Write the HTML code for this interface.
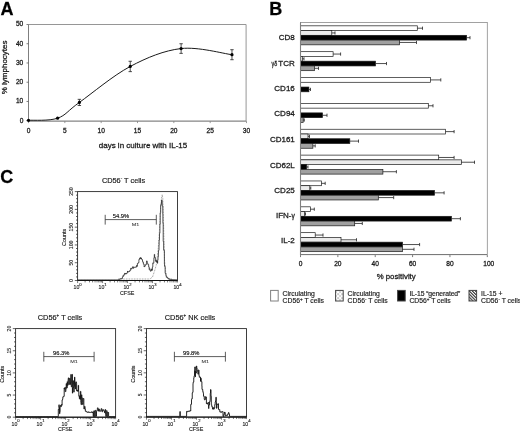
<!DOCTYPE html>
<html><head><meta charset="utf-8"><style>
html,body{margin:0;padding:0;background:#fff;}
svg{display:block;font-family:"Liberation Sans", sans-serif;will-change:transform;}
text{stroke:#222;stroke-width:0.28px;paint-order:stroke;}
</style></head><body>
<svg width="520" height="433" viewBox="0 0 520 433" font-family='"Liberation Sans", sans-serif'>
<rect width="520" height="433" fill="#fff"/>
<text x="0.6" y="14.8" font-size="18" font-weight="bold" fill="#000">A</text>
<path d="M28.5 24.5H246.1V121.1" fill="none" stroke="#8a8a8a" stroke-width="0.9"/>
<path d="M28.5 24.5V121.1" fill="none" stroke="#707070" stroke-width="0.9"/>
<path d="M28.5 121.1H246.1" fill="none" stroke="#858585" stroke-width="1.1"/>
<path d="M26.5 120.70H28.5" stroke="#606060" stroke-width="0.8"/>
<text x="23.3" y="122.60" font-size="6.6" text-anchor="end" fill="#1a1a1a">0</text>
<path d="M26.5 101.46H28.5" stroke="#606060" stroke-width="0.8"/>
<text x="23.3" y="103.36" font-size="6.6" text-anchor="end" fill="#1a1a1a">10</text>
<path d="M26.5 82.22H28.5" stroke="#606060" stroke-width="0.8"/>
<text x="23.3" y="84.12" font-size="6.6" text-anchor="end" fill="#1a1a1a">20</text>
<path d="M26.5 62.98H28.5" stroke="#606060" stroke-width="0.8"/>
<text x="23.3" y="64.88" font-size="6.6" text-anchor="end" fill="#1a1a1a">30</text>
<path d="M26.5 43.74H28.5" stroke="#606060" stroke-width="0.8"/>
<text x="23.3" y="45.64" font-size="6.6" text-anchor="end" fill="#1a1a1a">40</text>
<path d="M26.5 24.50H28.5" stroke="#606060" stroke-width="0.8"/>
<text x="23.3" y="26.40" font-size="6.6" text-anchor="end" fill="#1a1a1a">50</text>
<path d="M28.50 121.1V123.1" stroke="#808080" stroke-width="0.8"/>
<text x="28.50" y="133" font-size="6.6" text-anchor="middle" fill="#1a1a1a">0</text>
<path d="M64.84 121.1V123.1" stroke="#808080" stroke-width="0.8"/>
<text x="64.84" y="133" font-size="6.6" text-anchor="middle" fill="#1a1a1a">5</text>
<path d="M101.17 121.1V123.1" stroke="#808080" stroke-width="0.8"/>
<text x="101.17" y="133" font-size="6.6" text-anchor="middle" fill="#1a1a1a">10</text>
<path d="M137.50 121.1V123.1" stroke="#808080" stroke-width="0.8"/>
<text x="137.50" y="133" font-size="6.6" text-anchor="middle" fill="#1a1a1a">15</text>
<path d="M173.84 121.1V123.1" stroke="#808080" stroke-width="0.8"/>
<text x="173.84" y="133" font-size="6.6" text-anchor="middle" fill="#1a1a1a">20</text>
<path d="M210.18 121.1V123.1" stroke="#808080" stroke-width="0.8"/>
<text x="210.18" y="133" font-size="6.6" text-anchor="middle" fill="#1a1a1a">25</text>
<path d="M246.51 121.1V123.1" stroke="#808080" stroke-width="0.8"/>
<text x="246.51" y="133" font-size="6.6" text-anchor="middle" fill="#1a1a1a">30</text>
<text x="143" y="147.5" font-size="8" text-anchor="middle" fill="#1a1a1a">days in culture with IL-15</text>
<text transform="translate(6.5 67.4) rotate(-90)" font-size="8" text-anchor="middle" fill="#1a1a1a">% lymphocytes</text>
<path d="M28.50 120.32 C33.34 119.96 49.09 121.18 57.57 118.20 C66.05 115.22 67.26 111.05 79.37 102.42 C91.48 93.80 113.28 75.42 130.24 66.44 C147.19 57.46 164.15 50.51 181.11 48.55 C198.06 46.59 223.50 53.68 231.98 54.71" fill="none" stroke="#1a1a1a" stroke-width="1"/>
<circle cx="28.50" cy="120.32" r="1.6" fill="#000"/>
<circle cx="57.57" cy="118.20" r="1.6" fill="#000"/>
<path d="M79.37 99.34V105.50M77.67 99.34H81.07M77.67 105.50H81.07" stroke="#222" stroke-width="0.8" fill="none"/>
<circle cx="79.37" cy="102.42" r="1.6" fill="#000"/>
<path d="M130.24 61.25V71.64M128.54 61.25H131.94M128.54 71.64H131.94" stroke="#222" stroke-width="0.8" fill="none"/>
<circle cx="130.24" cy="66.44" r="1.6" fill="#000"/>
<path d="M181.11 43.74V53.36M179.41 43.74H182.81M179.41 53.36H182.81" stroke="#222" stroke-width="0.8" fill="none"/>
<circle cx="181.11" cy="48.55" r="1.6" fill="#000"/>
<path d="M231.98 49.70V59.71M230.28 49.70H233.68M230.28 59.71H233.68" stroke="#222" stroke-width="0.8" fill="none"/>
<circle cx="231.98" cy="54.71" r="1.6" fill="#000"/>
<text x="269.2" y="14.8" font-size="18" font-weight="bold" fill="#000">B</text>
<defs><pattern id="dots" width="2" height="2" patternUnits="userSpaceOnUse"><rect width="2" height="2" fill="#f2f2f2"/><rect width="1" height="1" fill="#c8c8c8"/></pattern><pattern id="hatch" width="2" height="2" patternUnits="userSpaceOnUse"><rect width="2" height="2" fill="#b0b0b0"/><rect width="1" height="1" fill="#707070"/></pattern><pattern id="hatchL" width="2.2" height="2.2" patternUnits="userSpaceOnUse" patternTransform="rotate(-45)"><rect width="2.2" height="2.2" fill="#ffffff"/><rect width="1.2" height="2.2" fill="#444"/></pattern><pattern id="dotsL" width="4" height="4" patternUnits="userSpaceOnUse" x="0.5" y="0.5"><rect width="4" height="4" fill="#fff"/><rect x="1" y="1" width="1.2" height="1.2" fill="#666"/><rect x="3" y="3" width="1.2" height="1.2" fill="#666"/></pattern></defs>
<rect x="300.50" y="25.83" width="116.80" height="4.75" fill="#ffffff" stroke="#1a1a1a" stroke-width="0.7"/>
<path d="M417.30 28.20H422.50M422.50 26.60V29.80" stroke="#222" stroke-width="0.8" fill="none"/>
<rect x="300.50" y="30.58" width="31.30" height="4.75" fill="#ebebeb" stroke="#1a1a1a" stroke-width="0.7"/>
<path d="M331.80 32.95H335.00M335.00 31.35V34.55" stroke="#222" stroke-width="0.8" fill="none"/>
<rect x="300.50" y="35.33" width="166.10" height="4.75" fill="#000000" stroke="#1a1a1a" stroke-width="0.7"/>
<path d="M466.60 37.70H470.00M470.00 36.10V39.30" stroke="#222" stroke-width="0.8" fill="none"/>
<rect x="300.50" y="40.08" width="99.10" height="4.75" fill="#a0a0a0" stroke="#1a1a1a" stroke-width="0.7"/>
<path d="M399.60 42.45H416.50M416.50 40.85V44.05" stroke="#222" stroke-width="0.8" fill="none"/>
<text x="294.8" y="40.30" font-size="8" text-anchor="end" fill="#1a1a1a">CD8</text>
<rect x="300.50" y="51.68" width="32.60" height="4.75" fill="#ffffff" stroke="#1a1a1a" stroke-width="0.7"/>
<path d="M333.10 54.06H340.60M340.60 52.46V55.66" stroke="#222" stroke-width="0.8" fill="none"/>
<rect x="300.50" y="56.43" width="1.80" height="4.75" fill="#ebebeb" stroke="#1a1a1a" stroke-width="0.7"/>
<path d="M302.30 58.81H304.00M304.00 57.21V60.41" stroke="#222" stroke-width="0.8" fill="none"/>
<rect x="300.50" y="61.18" width="75.00" height="4.75" fill="#000000" stroke="#1a1a1a" stroke-width="0.7"/>
<path d="M375.50 63.56H386.50M386.50 61.96V65.16" stroke="#222" stroke-width="0.8" fill="none"/>
<rect x="300.50" y="65.93" width="14.00" height="4.75" fill="#a0a0a0" stroke="#1a1a1a" stroke-width="0.7"/>
<path d="M314.50 68.31H318.50M318.50 66.71V69.91" stroke="#222" stroke-width="0.8" fill="none"/>
<text x="271.5" y="65.50" font-size="7.4" textLength="5.7" lengthAdjust="spacingAndGlyphs" fill="#1a1a1a">γδ</text>
<text x="294.8" y="65.50" font-size="8" text-anchor="end" fill="#1a1a1a">TCR</text>
<rect x="300.50" y="77.54" width="130.10" height="4.75" fill="#ffffff" stroke="#1a1a1a" stroke-width="0.7"/>
<path d="M430.60 79.91H440.80M440.80 78.31V81.51" stroke="#222" stroke-width="0.8" fill="none"/>
<rect x="300.50" y="87.04" width="8.40" height="4.75" fill="#000000" stroke="#1a1a1a" stroke-width="0.7"/>
<path d="M308.90 89.41H310.50M310.50 87.81V91.01" stroke="#222" stroke-width="0.8" fill="none"/>
<text x="294.8" y="90.65" font-size="8" text-anchor="end" fill="#1a1a1a">CD16</text>
<rect x="300.50" y="103.39" width="127.80" height="4.75" fill="#ffffff" stroke="#1a1a1a" stroke-width="0.7"/>
<path d="M428.30 105.77H433.00M433.00 104.17V107.37" stroke="#222" stroke-width="0.8" fill="none"/>
<rect x="300.50" y="112.89" width="22.00" height="4.75" fill="#000000" stroke="#1a1a1a" stroke-width="0.7"/>
<path d="M322.50 115.27H327.00M327.00 113.67V116.87" stroke="#222" stroke-width="0.8" fill="none"/>
<rect x="300.50" y="117.64" width="2.70" height="4.75" fill="#a0a0a0" stroke="#1a1a1a" stroke-width="0.7"/>
<path d="M303.20 120.02H304.30M304.30 118.42V121.62" stroke="#222" stroke-width="0.8" fill="none"/>
<text x="294.8" y="116.05" font-size="8" text-anchor="end" fill="#1a1a1a">CD94</text>
<rect x="300.50" y="129.25" width="145.10" height="4.75" fill="#ffffff" stroke="#1a1a1a" stroke-width="0.7"/>
<path d="M445.60 131.62H454.10M454.10 130.03V133.22" stroke="#222" stroke-width="0.8" fill="none"/>
<rect x="300.50" y="134.00" width="7.50" height="4.75" fill="#ebebeb" stroke="#1a1a1a" stroke-width="0.7"/>
<path d="M308.00 136.38H309.50M309.50 134.78V137.97" stroke="#222" stroke-width="0.8" fill="none"/>
<rect x="300.50" y="138.75" width="49.30" height="4.75" fill="#000000" stroke="#1a1a1a" stroke-width="0.7"/>
<path d="M349.80 141.12H358.50M358.50 139.53V142.72" stroke="#222" stroke-width="0.8" fill="none"/>
<rect x="300.50" y="143.50" width="12.40" height="4.75" fill="#a0a0a0" stroke="#1a1a1a" stroke-width="0.7"/>
<path d="M312.90 145.88H315.20M315.20 144.28V147.47" stroke="#222" stroke-width="0.8" fill="none"/>
<text x="294.8" y="141.90" font-size="8" text-anchor="end" fill="#1a1a1a">CD161</text>
<rect x="300.50" y="155.11" width="138.20" height="4.75" fill="#ffffff" stroke="#1a1a1a" stroke-width="0.7"/>
<path d="M438.70 157.48H454.10M454.10 155.88V159.08" stroke="#222" stroke-width="0.8" fill="none"/>
<rect x="300.50" y="159.86" width="160.90" height="4.75" fill="#ebebeb" stroke="#1a1a1a" stroke-width="0.7"/>
<path d="M461.40 162.23H474.50M474.50 160.63V163.83" stroke="#222" stroke-width="0.8" fill="none"/>
<rect x="300.50" y="164.61" width="6.10" height="4.75" fill="#000000" stroke="#1a1a1a" stroke-width="0.7"/>
<path d="M306.60 166.98H308.00M308.00 165.38V168.58" stroke="#222" stroke-width="0.8" fill="none"/>
<rect x="300.50" y="169.36" width="82.40" height="4.75" fill="#a0a0a0" stroke="#1a1a1a" stroke-width="0.7"/>
<path d="M382.90 171.73H396.40M396.40 170.13V173.33" stroke="#222" stroke-width="0.8" fill="none"/>
<text x="294.8" y="168.00" font-size="8" text-anchor="end" fill="#1a1a1a">CD62L</text>
<rect x="300.50" y="180.96" width="20.90" height="4.75" fill="#ffffff" stroke="#1a1a1a" stroke-width="0.7"/>
<path d="M321.40 183.34H325.20M325.20 181.74V184.94" stroke="#222" stroke-width="0.8" fill="none"/>
<rect x="300.50" y="185.71" width="9.30" height="4.75" fill="#ebebeb" stroke="#1a1a1a" stroke-width="0.7"/>
<path d="M309.80 188.09H310.80M310.80 186.49V189.69" stroke="#222" stroke-width="0.8" fill="none"/>
<rect x="300.50" y="190.46" width="134.00" height="4.75" fill="#000000" stroke="#1a1a1a" stroke-width="0.7"/>
<path d="M434.50 192.84H444.10M444.10 191.24V194.44" stroke="#222" stroke-width="0.8" fill="none"/>
<rect x="300.50" y="195.21" width="77.80" height="4.75" fill="#a0a0a0" stroke="#1a1a1a" stroke-width="0.7"/>
<path d="M378.30 197.59H393.70M393.70 195.99V199.19" stroke="#222" stroke-width="0.8" fill="none"/>
<text x="294.8" y="192.85" font-size="8" text-anchor="end" fill="#1a1a1a">CD25</text>
<rect x="300.50" y="206.82" width="9.90" height="4.75" fill="#ffffff" stroke="#1a1a1a" stroke-width="0.7"/>
<path d="M310.40 209.19H314.30M314.30 207.59V210.79" stroke="#222" stroke-width="0.8" fill="none"/>
<rect x="300.50" y="211.57" width="4.00" height="4.75" fill="#ebebeb" stroke="#1a1a1a" stroke-width="0.7"/>
<path d="M304.50 213.94H305.50M305.50 212.34V215.54" stroke="#222" stroke-width="0.8" fill="none"/>
<rect x="300.50" y="216.32" width="150.90" height="4.75" fill="#000000" stroke="#1a1a1a" stroke-width="0.7"/>
<path d="M451.40 218.69H460.40M460.40 217.09V220.29" stroke="#222" stroke-width="0.8" fill="none"/>
<rect x="300.50" y="221.07" width="54.20" height="4.75" fill="#a0a0a0" stroke="#1a1a1a" stroke-width="0.7"/>
<path d="M354.70 223.44H362.30M362.30 221.84V225.04" stroke="#222" stroke-width="0.8" fill="none"/>
<text x="294.8" y="217.50" font-size="8" text-anchor="end" fill="#1a1a1a">IFN-<tspan font-size="6.6">γ</tspan></text>
<rect x="300.50" y="232.67" width="14.70" height="4.75" fill="#ffffff" stroke="#1a1a1a" stroke-width="0.7"/>
<path d="M315.20 235.05H323.00M323.00 233.45V236.65" stroke="#222" stroke-width="0.8" fill="none"/>
<rect x="300.50" y="237.42" width="40.50" height="4.75" fill="#ebebeb" stroke="#1a1a1a" stroke-width="0.7"/>
<path d="M341.00 239.80H356.50M356.50 238.20V241.40" stroke="#222" stroke-width="0.8" fill="none"/>
<rect x="300.50" y="242.17" width="102.00" height="4.75" fill="#000000" stroke="#1a1a1a" stroke-width="0.7"/>
<path d="M402.50 244.55H419.60M419.60 242.95V246.15" stroke="#222" stroke-width="0.8" fill="none"/>
<rect x="300.50" y="246.92" width="102.00" height="4.75" fill="#a0a0a0" stroke="#1a1a1a" stroke-width="0.7"/>
<path d="M402.50 249.30H414.00M414.00 247.70V250.90" stroke="#222" stroke-width="0.8" fill="none"/>
<text x="294.8" y="242.95" font-size="8" text-anchor="end" fill="#1a1a1a">IL-2</text>
<rect x="300.5" y="22.4" width="186.80" height="232.20" fill="none" stroke="#8a8a8a" stroke-width="0.8"/>
<path d="M300.5 22.4V255.1" fill="none" stroke="#808080" stroke-width="1.1"/>
<path d="M300.5 254.6H487.3" fill="none" stroke="#777" stroke-width="1"/>
<path d="M300.50 255.1V257.1" stroke="#555" stroke-width="0.8"/>
<text x="300.50" y="265.5" font-size="6.6" text-anchor="middle" fill="#1a1a1a">0</text>
<path d="M337.86 255.1V257.1" stroke="#555" stroke-width="0.8"/>
<text x="337.86" y="265.5" font-size="6.6" text-anchor="middle" fill="#1a1a1a">20</text>
<path d="M375.22 255.1V257.1" stroke="#555" stroke-width="0.8"/>
<text x="375.22" y="265.5" font-size="6.6" text-anchor="middle" fill="#1a1a1a">40</text>
<path d="M412.58 255.1V257.1" stroke="#555" stroke-width="0.8"/>
<text x="412.58" y="265.5" font-size="6.6" text-anchor="middle" fill="#1a1a1a">60</text>
<path d="M449.94 255.1V257.1" stroke="#555" stroke-width="0.8"/>
<text x="449.94" y="265.5" font-size="6.6" text-anchor="middle" fill="#1a1a1a">80</text>
<path d="M487.30 255.1V257.1" stroke="#555" stroke-width="0.8"/>
<text x="488.80" y="265.5" font-size="6.6" text-anchor="middle" fill="#1a1a1a">100</text>
<text x="396.2" y="278.7" font-size="7.8" text-anchor="middle" fill="#1a1a1a">% positivity</text>
<rect x="270.60" y="290.4" width="7.6" height="10.6" fill="#fff" stroke="#808080" stroke-width="1"/>
<rect x="335.60" y="290.4" width="7.6" height="10.6" fill="url(#dotsL)" stroke="#444" stroke-width="1"/>
<rect x="397.60" y="290.4" width="7.6" height="10.6" fill="#000" stroke="#444" stroke-width="1"/>
<rect x="469.00" y="290.4" width="7.6" height="10.6" fill="url(#hatchL)" stroke="#444" stroke-width="1"/>
<text x="282.6" y="295.7" font-size="6.8" fill="#1a1a1a" style="stroke-width:0.16px">Circulating</text>
<text x="282.6" y="303" font-size="6.8" fill="#1a1a1a" style="stroke-width:0.16px">CD56<tspan font-size="4.5" dy="-2.5">+</tspan><tspan dy="2.5"> T cells</tspan></text>
<text x="347.6" y="295.7" font-size="6.8" fill="#1a1a1a" style="stroke-width:0.16px">Circulating</text>
<text x="347.6" y="303" font-size="6.8" fill="#1a1a1a" style="stroke-width:0.16px">CD56<tspan font-size="4.5" dy="-2.5">-</tspan><tspan dy="2.5"> T cells</tspan></text>
<text x="409.4" y="295.7" font-size="6.8" fill="#1a1a1a" letter-spacing="-0.1" style="stroke-width:0.16px">IL-15 &#8220;generated&#8221;</text>
<text x="409.4" y="303" font-size="6.8" fill="#1a1a1a" style="stroke-width:0.16px">CD56<tspan font-size="4.5" dy="-2.5">+</tspan><tspan dy="2.5"> T cells</tspan></text>
<text x="481.0" y="295.7" font-size="6.8" fill="#1a1a1a" style="stroke-width:0.16px">IL-15 +</text>
<text x="481.0" y="303" font-size="6.8" fill="#1a1a1a" style="stroke-width:0.16px">CD56<tspan font-size="4.5" dy="-2.5">-</tspan><tspan dy="2.5"> T cells</tspan></text>
<text x="0.3" y="182.5" font-size="18" font-weight="bold" fill="#000">C</text>
<text x="101.9" y="182.60" font-size="7.35" fill="#1a1a1a" style="stroke-width:0.18px">CD56<tspan font-size="4.5" dy="-2.5">-</tspan><tspan dy="2.5"> T cells</tspan></text>
<rect x="77.6" y="191.6" width="99.90" height="88.90" fill="none" stroke="#2a2a2a" stroke-width="0.9"/>
<path d="M74.80 280.50H77.6" stroke="#222" stroke-width="0.7"/>
<path d="M76.00 276.94H77.6" stroke="#222" stroke-width="0.7"/>
<path d="M76.00 273.39H77.6" stroke="#222" stroke-width="0.7"/>
<path d="M76.00 269.83H77.6" stroke="#222" stroke-width="0.7"/>
<path d="M76.00 266.28H77.6" stroke="#222" stroke-width="0.7"/>
<path d="M74.80 262.72H77.6" stroke="#222" stroke-width="0.7"/>
<path d="M76.00 259.16H77.6" stroke="#222" stroke-width="0.7"/>
<path d="M76.00 255.61H77.6" stroke="#222" stroke-width="0.7"/>
<path d="M76.00 252.05H77.6" stroke="#222" stroke-width="0.7"/>
<path d="M76.00 248.50H77.6" stroke="#222" stroke-width="0.7"/>
<path d="M74.80 244.94H77.6" stroke="#222" stroke-width="0.7"/>
<path d="M76.00 241.38H77.6" stroke="#222" stroke-width="0.7"/>
<path d="M76.00 237.83H77.6" stroke="#222" stroke-width="0.7"/>
<path d="M76.00 234.27H77.6" stroke="#222" stroke-width="0.7"/>
<path d="M76.00 230.72H77.6" stroke="#222" stroke-width="0.7"/>
<path d="M74.80 227.16H77.6" stroke="#222" stroke-width="0.7"/>
<path d="M76.00 223.60H77.6" stroke="#222" stroke-width="0.7"/>
<path d="M76.00 220.05H77.6" stroke="#222" stroke-width="0.7"/>
<path d="M76.00 216.49H77.6" stroke="#222" stroke-width="0.7"/>
<path d="M76.00 212.94H77.6" stroke="#222" stroke-width="0.7"/>
<path d="M74.80 209.38H77.6" stroke="#222" stroke-width="0.7"/>
<path d="M76.00 205.82H77.6" stroke="#222" stroke-width="0.7"/>
<path d="M76.00 202.27H77.6" stroke="#222" stroke-width="0.7"/>
<path d="M76.00 198.71H77.6" stroke="#222" stroke-width="0.7"/>
<path d="M76.00 195.16H77.6" stroke="#222" stroke-width="0.7"/>
<path d="M74.80 191.60H77.6" stroke="#222" stroke-width="0.7"/>
<text transform="translate(72.70 280.50) rotate(-90)" font-size="5.1" style="stroke-width:0.12px" text-anchor="middle" fill="#1a1a1a">0</text>
<text transform="translate(72.70 262.72) rotate(-90)" font-size="5.1" style="stroke-width:0.12px" text-anchor="middle" fill="#1a1a1a">50</text>
<text transform="translate(72.70 244.94) rotate(-90)" font-size="5.1" style="stroke-width:0.12px" text-anchor="middle" fill="#1a1a1a">100</text>
<text transform="translate(72.70 227.16) rotate(-90)" font-size="5.1" style="stroke-width:0.12px" text-anchor="middle" fill="#1a1a1a">150</text>
<text transform="translate(72.70 209.38) rotate(-90)" font-size="5.1" style="stroke-width:0.12px" text-anchor="middle" fill="#1a1a1a">200</text>
<text transform="translate(72.70 191.60) rotate(-90)" font-size="5.1" style="stroke-width:0.12px" text-anchor="middle" fill="#1a1a1a">250</text>
<text transform="translate(66.40 237.38) rotate(-90)" font-size="5.4" text-anchor="middle" fill="#1a1a1a" style="stroke-width:0.14px">Counts</text>
<path d="M77.60 280.5V283.10" stroke="#222" stroke-width="0.6"/>
<path d="M85.12 280.5V282.40" stroke="#222" stroke-width="0.6"/>
<path d="M89.52 280.5V282.40" stroke="#222" stroke-width="0.6"/>
<path d="M92.64 280.5V282.40" stroke="#222" stroke-width="0.6"/>
<path d="M95.06 280.5V282.40" stroke="#222" stroke-width="0.6"/>
<path d="M97.03 280.5V282.40" stroke="#222" stroke-width="0.6"/>
<path d="M98.71 280.5V282.40" stroke="#222" stroke-width="0.6"/>
<path d="M100.15 280.5V282.40" stroke="#222" stroke-width="0.6"/>
<path d="M101.43 280.5V282.40" stroke="#222" stroke-width="0.6"/>
<path d="M102.57 280.5V283.10" stroke="#222" stroke-width="0.6"/>
<path d="M110.09 280.5V282.40" stroke="#222" stroke-width="0.6"/>
<path d="M114.49 280.5V282.40" stroke="#222" stroke-width="0.6"/>
<path d="M117.61 280.5V282.40" stroke="#222" stroke-width="0.6"/>
<path d="M120.03 280.5V282.40" stroke="#222" stroke-width="0.6"/>
<path d="M122.01 280.5V282.40" stroke="#222" stroke-width="0.6"/>
<path d="M123.68 280.5V282.40" stroke="#222" stroke-width="0.6"/>
<path d="M125.13 280.5V282.40" stroke="#222" stroke-width="0.6"/>
<path d="M126.41 280.5V282.40" stroke="#222" stroke-width="0.6"/>
<path d="M127.55 280.5V283.10" stroke="#222" stroke-width="0.6"/>
<path d="M135.07 280.5V282.40" stroke="#222" stroke-width="0.6"/>
<path d="M139.47 280.5V282.40" stroke="#222" stroke-width="0.6"/>
<path d="M142.59 280.5V282.40" stroke="#222" stroke-width="0.6"/>
<path d="M145.01 280.5V282.40" stroke="#222" stroke-width="0.6"/>
<path d="M146.98 280.5V282.40" stroke="#222" stroke-width="0.6"/>
<path d="M148.66 280.5V282.40" stroke="#222" stroke-width="0.6"/>
<path d="M150.10 280.5V282.40" stroke="#222" stroke-width="0.6"/>
<path d="M151.38 280.5V282.40" stroke="#222" stroke-width="0.6"/>
<path d="M152.53 280.5V283.10" stroke="#222" stroke-width="0.6"/>
<path d="M160.04 280.5V282.40" stroke="#222" stroke-width="0.6"/>
<path d="M164.44 280.5V282.40" stroke="#222" stroke-width="0.6"/>
<path d="M167.56 280.5V282.40" stroke="#222" stroke-width="0.6"/>
<path d="M169.98 280.5V282.40" stroke="#222" stroke-width="0.6"/>
<path d="M171.96 280.5V282.40" stroke="#222" stroke-width="0.6"/>
<path d="M173.63 280.5V282.40" stroke="#222" stroke-width="0.6"/>
<path d="M175.08 280.5V282.40" stroke="#222" stroke-width="0.6"/>
<path d="M176.36 280.5V282.40" stroke="#222" stroke-width="0.6"/>
<path d="M177.5 280.5V282.5" stroke="#222" stroke-width="0.6"/>
<text x="77.60" y="289.10" font-size="5.2" text-anchor="middle" fill="#1a1a1a" style="stroke-width:0.12px">10<tspan font-size="4.2" dy="-3.6">0</tspan></text>
<text x="102.57" y="289.10" font-size="5.2" text-anchor="middle" fill="#1a1a1a" style="stroke-width:0.12px">10<tspan font-size="4.2" dy="-3.6">1</tspan></text>
<text x="127.55" y="289.10" font-size="5.2" text-anchor="middle" fill="#1a1a1a" style="stroke-width:0.12px">10<tspan font-size="4.2" dy="-3.6">2</tspan></text>
<text x="152.53" y="289.10" font-size="5.2" text-anchor="middle" fill="#1a1a1a" style="stroke-width:0.12px">10<tspan font-size="4.2" dy="-3.6">3</tspan></text>
<text x="177.50" y="289.10" font-size="5.2" text-anchor="middle" fill="#1a1a1a" style="stroke-width:0.12px">10<tspan font-size="4.2" dy="-3.6">4</tspan></text>
<text x="127.15" y="294.60" font-size="5.4" text-anchor="middle" fill="#1a1a1a" style="stroke-width:0.14px">CFSE</text>
<path d="M105.2 219.60H156.3M105.2 214.80V224.60M156.3 214.80V224.60" stroke="#333" stroke-width="0.8" fill="none"/>
<text transform="translate(112.80 218.00) scale(1.2 1)" font-size="4.8" fill="#1a1a1a" style="stroke-width:0.15px">54.9%</text>
<text transform="translate(131.80 226.40) scale(1.25 1)" font-size="4.4" fill="#333" style="stroke-width:0.05px">M1</text>
<path d="M77.6 280.5H177.5" stroke="#111" stroke-width="1"/>
<polyline points="118,279 150,279 152.5,277 154.6,270.8 156.3,265 158.1,250 159.5,230 160.5,210 161.5,198 162.2,194.7 162.8,198 163.3,215 164,240 164.5,260 166,275 168,279 172,279.3" fill="none" stroke="#666" stroke-width="0.7" stroke-dasharray="0.8 0.8"/>
<path d="M77.40 279.80H78.15V279.80H78.90V279.80H79.65V279.80H80.40V279.80H81.15V279.80H81.90V279.80H82.65V279.80H83.40V279.80H84.15V279.80H84.90V279.80H85.65V279.80H86.40V279.80H87.15V279.80H87.90V279.80H88.65V279.80H89.40V279.80H90.15V279.80H90.90V279.80H91.65V279.80H92.40V279.80H93.15V279.80H93.90V279.80H94.65V279.80H95.40V279.80H96.15V279.80H96.90V279.80H97.65V279.80H98.40V279.80H99.15V279.80H99.90V279.80H100.65V279.80H101.40V279.80H102.15V279.80H102.90V279.80H103.65V279.80H104.40V279.80H105.15V279.80H105.90V279.80H106.65V279.80H107.40V279.80H108.15V279.80H108.90V279.80H109.65V279.80H110.40V279.80H111.15V279.80H111.90V279.80H112.65V279.80H113.40V279.80H114.15V279.80H114.90V279.80H115.65V279.80H116.40V279.80H117.15V279.80H117.90V279.80H118.20V279.80H118.65V279.60H119.40V279.27H120.00V278.79H120.15V278.99H120.90V278.65H121.65V278.62H121.80V278.60H122.40V276.90H123.00V275.61H123.15V276.06H123.90V274.53H124.65V273.26H124.90V274.06H125.40V273.48H126.00V274.07H126.15V273.55H126.90V272.76H127.50V271.10H127.65V271.86H128.40V271.92H129.00V271.04H129.15V271.27H129.90V270.34H130.65V268.35H131.20V269.12H131.40V268.66H132.15V267.61H132.90V266.58H133.00V268.27H133.65V267.16H134.40V267.36H135.15V267.39H135.30V266.97H135.90V267.05H136.65V265.39H136.70V266.28H137.40V263.53H138.00V263.10H138.15V262.73H138.90V259.50H139.00V259.44H139.65V258.05H140.20V258.82H140.40V257.52H140.80V258.45H141.15V258.00H141.50V259.02H141.90V259.70H142.50V261.12H142.65V262.13H143.40V264.20H144.15V266.96H144.20V266.60H144.90V265.80H145.30V264.85H145.65V264.60H146.40V262.57H146.60V260.94H147.15V262.99H147.60V263.47H147.90V264.55H148.65V266.91H149.20V269.52H149.40V268.81H150.15V270.98H150.70V271.23H150.90V270.41H151.65V268.84H151.70V270.28H152.40V267.07H152.80V262.92H153.15V263.18H153.80V259.46H153.90V257.80H154.30V254.38H154.65V257.43H155.40V261.19H156.15V260.23H156.40V262.09H156.90V261.11H157.50V263.34H157.65V260.20H158.00V256.72H158.40V252.98H158.50V250.42H159.00V244.91H159.15V239.96H159.50V233.30H159.90V224.02H160.20V212.74H160.65V205.96H160.80V204.52H161.40V203.01H161.50V200.18H162.15V201.46H162.20V205.92H162.80V214.10H162.90V223.36H163.20V241.50H163.65V248.96H163.70V250.27H164.40V264.10H164.50V266.32H165.15V272.84H165.20V273.29H165.90V275.65H166.30V277.25H166.65V277.24H167.40V277.89H168.15V278.84H168.40V278.69H168.90V278.82H169.65V279.49H170.40V279.23H171.15V279.36H171.90V279.48H172.00V279.50H172.65V279.54H173.40V279.58H174.15V279.63H174.90V279.67H175.65V279.72H176.40V279.76H177.00V279.80" fill="none" stroke="#2a2a2a" stroke-width="0.8" stroke-linejoin="miter"/>
<text x="37.8" y="319.60" font-size="7.35" fill="#1a1a1a" style="stroke-width:0.18px">CD56<tspan font-size="4.5" dy="-2.5">+</tspan><tspan dy="2.5"> T cells</tspan></text>
<rect x="15.6" y="328.6" width="100.00" height="88.60" fill="none" stroke="#2a2a2a" stroke-width="0.9"/>
<path d="M12.80 417.20H15.6" stroke="#222" stroke-width="0.7"/>
<path d="M14.00 412.77H15.6" stroke="#222" stroke-width="0.7"/>
<path d="M14.00 408.34H15.6" stroke="#222" stroke-width="0.7"/>
<path d="M14.00 403.91H15.6" stroke="#222" stroke-width="0.7"/>
<path d="M14.00 399.48H15.6" stroke="#222" stroke-width="0.7"/>
<path d="M12.80 395.05H15.6" stroke="#222" stroke-width="0.7"/>
<path d="M14.00 390.62H15.6" stroke="#222" stroke-width="0.7"/>
<path d="M14.00 386.19H15.6" stroke="#222" stroke-width="0.7"/>
<path d="M14.00 381.76H15.6" stroke="#222" stroke-width="0.7"/>
<path d="M14.00 377.33H15.6" stroke="#222" stroke-width="0.7"/>
<path d="M12.80 372.90H15.6" stroke="#222" stroke-width="0.7"/>
<path d="M14.00 368.47H15.6" stroke="#222" stroke-width="0.7"/>
<path d="M14.00 364.04H15.6" stroke="#222" stroke-width="0.7"/>
<path d="M14.00 359.61H15.6" stroke="#222" stroke-width="0.7"/>
<path d="M14.00 355.18H15.6" stroke="#222" stroke-width="0.7"/>
<path d="M12.80 350.75H15.6" stroke="#222" stroke-width="0.7"/>
<path d="M14.00 346.32H15.6" stroke="#222" stroke-width="0.7"/>
<path d="M14.00 341.89H15.6" stroke="#222" stroke-width="0.7"/>
<path d="M14.00 337.46H15.6" stroke="#222" stroke-width="0.7"/>
<path d="M14.00 333.03H15.6" stroke="#222" stroke-width="0.7"/>
<path d="M12.80 328.60H15.6" stroke="#222" stroke-width="0.7"/>
<text transform="translate(10.70 417.20) rotate(-90)" font-size="5.0" style="stroke-width:0.12px" text-anchor="middle" fill="#1a1a1a">0</text>
<text transform="translate(10.70 395.05) rotate(-90)" font-size="5.0" style="stroke-width:0.12px" text-anchor="middle" fill="#1a1a1a">5</text>
<text transform="translate(10.70 372.90) rotate(-90)" font-size="5.0" style="stroke-width:0.12px" text-anchor="middle" fill="#1a1a1a">10</text>
<text transform="translate(10.70 350.75) rotate(-90)" font-size="5.0" style="stroke-width:0.12px" text-anchor="middle" fill="#1a1a1a">15</text>
<text transform="translate(10.70 328.60) rotate(-90)" font-size="5.0" style="stroke-width:0.12px" text-anchor="middle" fill="#1a1a1a">20</text>
<text transform="translate(4.40 374.23) rotate(-90)" font-size="5.4" text-anchor="middle" fill="#1a1a1a" style="stroke-width:0.14px">Counts</text>
<path d="M15.60 417.2V419.80" stroke="#222" stroke-width="0.6"/>
<path d="M23.13 417.2V419.10" stroke="#222" stroke-width="0.6"/>
<path d="M27.53 417.2V419.10" stroke="#222" stroke-width="0.6"/>
<path d="M30.65 417.2V419.10" stroke="#222" stroke-width="0.6"/>
<path d="M33.07 417.2V419.10" stroke="#222" stroke-width="0.6"/>
<path d="M35.05 417.2V419.10" stroke="#222" stroke-width="0.6"/>
<path d="M36.73 417.2V419.10" stroke="#222" stroke-width="0.6"/>
<path d="M38.18 417.2V419.10" stroke="#222" stroke-width="0.6"/>
<path d="M39.46 417.2V419.10" stroke="#222" stroke-width="0.6"/>
<path d="M40.60 417.2V419.80" stroke="#222" stroke-width="0.6"/>
<path d="M48.13 417.2V419.10" stroke="#222" stroke-width="0.6"/>
<path d="M52.53 417.2V419.10" stroke="#222" stroke-width="0.6"/>
<path d="M55.65 417.2V419.10" stroke="#222" stroke-width="0.6"/>
<path d="M58.07 417.2V419.10" stroke="#222" stroke-width="0.6"/>
<path d="M60.05 417.2V419.10" stroke="#222" stroke-width="0.6"/>
<path d="M61.73 417.2V419.10" stroke="#222" stroke-width="0.6"/>
<path d="M63.18 417.2V419.10" stroke="#222" stroke-width="0.6"/>
<path d="M64.46 417.2V419.10" stroke="#222" stroke-width="0.6"/>
<path d="M65.60 417.2V419.80" stroke="#222" stroke-width="0.6"/>
<path d="M73.13 417.2V419.10" stroke="#222" stroke-width="0.6"/>
<path d="M77.53 417.2V419.10" stroke="#222" stroke-width="0.6"/>
<path d="M80.65 417.2V419.10" stroke="#222" stroke-width="0.6"/>
<path d="M83.07 417.2V419.10" stroke="#222" stroke-width="0.6"/>
<path d="M85.05 417.2V419.10" stroke="#222" stroke-width="0.6"/>
<path d="M86.73 417.2V419.10" stroke="#222" stroke-width="0.6"/>
<path d="M88.18 417.2V419.10" stroke="#222" stroke-width="0.6"/>
<path d="M89.46 417.2V419.10" stroke="#222" stroke-width="0.6"/>
<path d="M90.60 417.2V419.80" stroke="#222" stroke-width="0.6"/>
<path d="M98.13 417.2V419.10" stroke="#222" stroke-width="0.6"/>
<path d="M102.53 417.2V419.10" stroke="#222" stroke-width="0.6"/>
<path d="M105.65 417.2V419.10" stroke="#222" stroke-width="0.6"/>
<path d="M108.07 417.2V419.10" stroke="#222" stroke-width="0.6"/>
<path d="M110.05 417.2V419.10" stroke="#222" stroke-width="0.6"/>
<path d="M111.73 417.2V419.10" stroke="#222" stroke-width="0.6"/>
<path d="M113.18 417.2V419.10" stroke="#222" stroke-width="0.6"/>
<path d="M114.46 417.2V419.10" stroke="#222" stroke-width="0.6"/>
<path d="M115.6 417.2V419.2" stroke="#222" stroke-width="0.6"/>
<text x="15.60" y="425.80" font-size="5.2" text-anchor="middle" fill="#1a1a1a" style="stroke-width:0.12px">10<tspan font-size="4.2" dy="-3.6">0</tspan></text>
<text x="40.60" y="425.80" font-size="5.2" text-anchor="middle" fill="#1a1a1a" style="stroke-width:0.12px">10<tspan font-size="4.2" dy="-3.6">1</tspan></text>
<text x="65.60" y="425.80" font-size="5.2" text-anchor="middle" fill="#1a1a1a" style="stroke-width:0.12px">10<tspan font-size="4.2" dy="-3.6">2</tspan></text>
<text x="90.60" y="425.80" font-size="5.2" text-anchor="middle" fill="#1a1a1a" style="stroke-width:0.12px">10<tspan font-size="4.2" dy="-3.6">3</tspan></text>
<text x="115.60" y="425.80" font-size="5.2" text-anchor="middle" fill="#1a1a1a" style="stroke-width:0.12px">10<tspan font-size="4.2" dy="-3.6">4</tspan></text>
<text x="65.20" y="431.30" font-size="5.4" text-anchor="middle" fill="#1a1a1a" style="stroke-width:0.14px">CFSE</text>
<path d="M43.8 356.60H94.1M43.8 351.80V361.60M94.1 351.80V361.60" stroke="#333" stroke-width="0.8" fill="none"/>
<text transform="translate(53.00 355.00) scale(1.2 1)" font-size="4.8" fill="#1a1a1a" style="stroke-width:0.15px">96.3%</text>
<text transform="translate(70.30 363.40) scale(1.25 1)" font-size="4.4" fill="#333" style="stroke-width:0.05px">M1</text>
<path d="M15.6 417.2H115.6" stroke="#111" stroke-width="1"/>
<path d="M15.60 416.50H16.35V416.50H17.10V416.50H17.85V416.50H18.60V416.50H19.35V416.50H20.10V416.50H20.85V416.50H21.60V416.50H22.35V416.50H23.10V416.50H23.85V416.50H24.60V416.50H25.35V416.50H26.10V416.50H26.85V416.50H27.60V416.50H28.35V416.50H29.10V416.50H29.85V416.50H30.60V416.50H31.35V416.50H32.10V416.50H32.85V416.50H33.60V416.50H34.35V416.50H35.10V416.50H35.85V416.50H36.60V416.50H37.35V416.50H38.10V416.50H38.85V416.50H39.60V416.50H40.35V416.50H41.10V416.50H41.85V416.50H42.60V416.50H43.35V416.50H44.10V416.50H44.85V416.50H45.60V416.50H46.35V416.50H47.10V416.50H47.85V416.50H48.60V416.50H49.35V416.50H50.10V416.50H50.85V416.50H51.60V416.50H52.35V416.50H53.10V416.50H53.85V416.50H54.60V416.50H55.35V416.50H56.10V416.50H56.85V416.50H57.60V416.50H58.00V416.50H58.30V409.47H58.35V409.54H59.00V404.71H59.10V407.34H59.50V413.69H59.85V411.76H60.10V406.08H60.60V405.34H60.80V406.65H61.35V404.59H61.90V405.25H62.10V399.94H62.60V398.82H62.85V396.82H63.50V396.87H63.60V396.33H64.20V387.98H64.35V388.96H65.10V387.16H65.20V391.58H65.85V389.03H66.20V383.58H66.60V387.89H67.30V381.64H67.35V385.31H68.10V379.45H68.30V377.90H68.85V384.53H69.30V378.58H69.60V378.45H70.20V384.55H70.35V382.77H70.90V374.43H71.10V385.23H71.30V386.80H71.85V380.56H72.00V374.40H72.40V393.18H72.60V388.08H73.20V380.63H73.35V384.05H73.80V392.15H74.10V386.67H74.50V377.17H74.85V383.26H75.20V388.99H75.60V383.10H75.80V381.86H76.35V383.13H76.60V390.89H77.10V390.07H77.50V391.20H77.85V391.34H78.20V385.35H78.60V391.51H78.80V396.28H79.35V398.70H79.80V395.65H80.10V399.38H80.40V391.37H80.85V402.11H81.00V404.59H81.60V394.77H81.80V397.82H82.35V402.65H82.40V404.39H83.10V398.70H83.20V398.50H83.85V405.16H83.90V408.96H84.60V406.37H85.00V409.04H85.35V411.31H85.60V411.35H86.10V411.38H86.80V412.08H86.85V412.22H87.60V412.42H88.35V411.89H89.10V412.40H89.85V412.44H90.60V412.49H91.35V411.83H92.10V412.56H92.80V411.87H92.85V412.61H93.20V416.50H93.60V412.59H93.80V410.83H94.35V416.00H94.40V416.50H95.10V410.37H95.80V416.50H95.85V416.11H96.50V411.34H96.60V410.80H97.35V408.24H97.50V407.88H98.10V409.22H98.50V411.16H98.85V409.00H99.30V409.34H99.60V411.31H100.30V411.23H100.35V410.90H101.00V410.16H101.10V408.71H101.85V411.35H102.00V411.79H102.60V409.80H102.80V409.88H103.35V409.76H103.80V410.94H104.10V411.21H104.60V412.83H104.85V410.88H105.20V409.48H105.60V414.44H105.80V416.50H106.35V411.49H106.50V410.69H107.10V416.00H107.20V416.50H107.80V412.10H107.85V412.51H108.60V416.50H109.35V416.50H110.10V416.50H110.85V416.50H111.60V416.50H112.35V416.50H113.10V416.50H113.85V416.50H114.60V416.50H115.35V416.50H115.60V416.50" fill="none" stroke="#111" stroke-width="0.9" stroke-linejoin="miter"/>
<text x="164.8" y="319.60" font-size="7.35" fill="#1a1a1a" style="stroke-width:0.18px">CD56<tspan font-size="4.5" dy="-2.5">+</tspan><tspan dy="2.5"> NK cells</tspan></text>
<rect x="146.5" y="328.6" width="100.00" height="88.50" fill="none" stroke="#2a2a2a" stroke-width="0.9"/>
<path d="M143.70 417.10H146.5" stroke="#222" stroke-width="0.7"/>
<path d="M144.90 412.68H146.5" stroke="#222" stroke-width="0.7"/>
<path d="M144.90 408.25H146.5" stroke="#222" stroke-width="0.7"/>
<path d="M144.90 403.83H146.5" stroke="#222" stroke-width="0.7"/>
<path d="M144.90 399.40H146.5" stroke="#222" stroke-width="0.7"/>
<path d="M143.70 394.98H146.5" stroke="#222" stroke-width="0.7"/>
<path d="M144.90 390.55H146.5" stroke="#222" stroke-width="0.7"/>
<path d="M144.90 386.12H146.5" stroke="#222" stroke-width="0.7"/>
<path d="M144.90 381.70H146.5" stroke="#222" stroke-width="0.7"/>
<path d="M144.90 377.28H146.5" stroke="#222" stroke-width="0.7"/>
<path d="M143.70 372.85H146.5" stroke="#222" stroke-width="0.7"/>
<path d="M144.90 368.43H146.5" stroke="#222" stroke-width="0.7"/>
<path d="M144.90 364.00H146.5" stroke="#222" stroke-width="0.7"/>
<path d="M144.90 359.58H146.5" stroke="#222" stroke-width="0.7"/>
<path d="M144.90 355.15H146.5" stroke="#222" stroke-width="0.7"/>
<path d="M143.70 350.73H146.5" stroke="#222" stroke-width="0.7"/>
<path d="M144.90 346.30H146.5" stroke="#222" stroke-width="0.7"/>
<path d="M144.90 341.88H146.5" stroke="#222" stroke-width="0.7"/>
<path d="M144.90 337.45H146.5" stroke="#222" stroke-width="0.7"/>
<path d="M144.90 333.03H146.5" stroke="#222" stroke-width="0.7"/>
<path d="M143.70 328.60H146.5" stroke="#222" stroke-width="0.7"/>
<text transform="translate(141.60 417.10) rotate(-90)" font-size="5.0" style="stroke-width:0.12px" text-anchor="middle" fill="#1a1a1a">0</text>
<text transform="translate(141.60 394.98) rotate(-90)" font-size="5.0" style="stroke-width:0.12px" text-anchor="middle" fill="#1a1a1a">5</text>
<text transform="translate(141.60 372.85) rotate(-90)" font-size="5.0" style="stroke-width:0.12px" text-anchor="middle" fill="#1a1a1a">10</text>
<text transform="translate(141.60 350.73) rotate(-90)" font-size="5.0" style="stroke-width:0.12px" text-anchor="middle" fill="#1a1a1a">15</text>
<text transform="translate(141.60 328.60) rotate(-90)" font-size="5.0" style="stroke-width:0.12px" text-anchor="middle" fill="#1a1a1a">20</text>
<text transform="translate(135.30 374.18) rotate(-90)" font-size="5.4" text-anchor="middle" fill="#1a1a1a" style="stroke-width:0.14px">Counts</text>
<path d="M146.50 417.1V419.70" stroke="#222" stroke-width="0.6"/>
<path d="M154.03 417.1V419.00" stroke="#222" stroke-width="0.6"/>
<path d="M158.43 417.1V419.00" stroke="#222" stroke-width="0.6"/>
<path d="M161.55 417.1V419.00" stroke="#222" stroke-width="0.6"/>
<path d="M163.97 417.1V419.00" stroke="#222" stroke-width="0.6"/>
<path d="M165.95 417.1V419.00" stroke="#222" stroke-width="0.6"/>
<path d="M167.63 417.1V419.00" stroke="#222" stroke-width="0.6"/>
<path d="M169.08 417.1V419.00" stroke="#222" stroke-width="0.6"/>
<path d="M170.36 417.1V419.00" stroke="#222" stroke-width="0.6"/>
<path d="M171.50 417.1V419.70" stroke="#222" stroke-width="0.6"/>
<path d="M179.03 417.1V419.00" stroke="#222" stroke-width="0.6"/>
<path d="M183.43 417.1V419.00" stroke="#222" stroke-width="0.6"/>
<path d="M186.55 417.1V419.00" stroke="#222" stroke-width="0.6"/>
<path d="M188.97 417.1V419.00" stroke="#222" stroke-width="0.6"/>
<path d="M190.95 417.1V419.00" stroke="#222" stroke-width="0.6"/>
<path d="M192.63 417.1V419.00" stroke="#222" stroke-width="0.6"/>
<path d="M194.08 417.1V419.00" stroke="#222" stroke-width="0.6"/>
<path d="M195.36 417.1V419.00" stroke="#222" stroke-width="0.6"/>
<path d="M196.50 417.1V419.70" stroke="#222" stroke-width="0.6"/>
<path d="M204.03 417.1V419.00" stroke="#222" stroke-width="0.6"/>
<path d="M208.43 417.1V419.00" stroke="#222" stroke-width="0.6"/>
<path d="M211.55 417.1V419.00" stroke="#222" stroke-width="0.6"/>
<path d="M213.97 417.1V419.00" stroke="#222" stroke-width="0.6"/>
<path d="M215.95 417.1V419.00" stroke="#222" stroke-width="0.6"/>
<path d="M217.63 417.1V419.00" stroke="#222" stroke-width="0.6"/>
<path d="M219.08 417.1V419.00" stroke="#222" stroke-width="0.6"/>
<path d="M220.36 417.1V419.00" stroke="#222" stroke-width="0.6"/>
<path d="M221.50 417.1V419.70" stroke="#222" stroke-width="0.6"/>
<path d="M229.03 417.1V419.00" stroke="#222" stroke-width="0.6"/>
<path d="M233.43 417.1V419.00" stroke="#222" stroke-width="0.6"/>
<path d="M236.55 417.1V419.00" stroke="#222" stroke-width="0.6"/>
<path d="M238.97 417.1V419.00" stroke="#222" stroke-width="0.6"/>
<path d="M240.95 417.1V419.00" stroke="#222" stroke-width="0.6"/>
<path d="M242.63 417.1V419.00" stroke="#222" stroke-width="0.6"/>
<path d="M244.08 417.1V419.00" stroke="#222" stroke-width="0.6"/>
<path d="M245.36 417.1V419.00" stroke="#222" stroke-width="0.6"/>
<path d="M246.5 417.1V419.1" stroke="#222" stroke-width="0.6"/>
<text x="146.50" y="425.70" font-size="5.2" text-anchor="middle" fill="#1a1a1a" style="stroke-width:0.12px">10<tspan font-size="4.2" dy="-3.6">0</tspan></text>
<text x="171.50" y="425.70" font-size="5.2" text-anchor="middle" fill="#1a1a1a" style="stroke-width:0.12px">10<tspan font-size="4.2" dy="-3.6">1</tspan></text>
<text x="196.50" y="425.70" font-size="5.2" text-anchor="middle" fill="#1a1a1a" style="stroke-width:0.12px">10<tspan font-size="4.2" dy="-3.6">2</tspan></text>
<text x="221.50" y="425.70" font-size="5.2" text-anchor="middle" fill="#1a1a1a" style="stroke-width:0.12px">10<tspan font-size="4.2" dy="-3.6">3</tspan></text>
<text x="246.50" y="425.70" font-size="5.2" text-anchor="middle" fill="#1a1a1a" style="stroke-width:0.12px">10<tspan font-size="4.2" dy="-3.6">4</tspan></text>
<text x="196.10" y="431.20" font-size="5.4" text-anchor="middle" fill="#1a1a1a" style="stroke-width:0.14px">CFSE</text>
<path d="M174.4 356.60H225.4M174.4 351.80V361.60M225.4 351.80V361.60" stroke="#333" stroke-width="0.8" fill="none"/>
<text transform="translate(183.00 355.00) scale(1.2 1)" font-size="4.8" fill="#1a1a1a" style="stroke-width:0.15px">99.8%</text>
<text transform="translate(201.50 363.40) scale(1.25 1)" font-size="4.4" fill="#333" style="stroke-width:0.05px">M1</text>
<path d="M146.5 417.1H246.5" stroke="#111" stroke-width="1"/>
<path d="M146.50 416.40H147.25V416.40H148.00V416.40H148.75V416.40H149.50V416.40H150.25V416.40H151.00V416.40H151.75V416.40H152.50V416.40H153.25V416.40H154.00V416.40H154.75V416.40H155.50V416.40H156.25V416.40H157.00V416.40H157.75V416.40H158.50V416.40H159.25V416.40H160.00V416.40H160.75V416.40H161.50V416.40H162.25V416.40H163.00V416.40H163.75V416.40H164.50V416.40H165.25V416.40H166.00V416.40H166.75V416.40H167.50V416.40H168.25V416.40H169.00V416.40H169.75V416.40H170.50V416.40H171.25V416.40H172.00V416.40H172.75V416.40H173.50V416.40H174.25V416.40H175.00V416.40H175.75V416.40H176.50V416.40H177.25V416.40H178.00V416.40H178.75V416.40H179.50V416.40H179.60V416.40H179.90V411.56H180.25V415.81H180.30V416.40H181.00V416.40H181.75V416.40H182.50V416.40H183.25V416.40H184.00V416.40H184.75V416.40H185.50V416.40H186.25V416.40H186.40V416.40H186.60V411.42H187.00V411.75H187.75V411.14H188.50V411.37H189.25V411.09H190.00V410.70H190.30V411.01H190.75V404.43H190.90V404.33H191.50V399.34H191.60V398.86H192.25V392.85H192.50V392.40H193.00V383.33H193.20V382.11H193.75V377.81H194.10V375.87H194.50V370.36H194.80V366.94H195.25V376.88H195.40V371.39H196.00V373.09H196.30V366.04H196.75V368.19H197.10V370.60H197.50V371.24H198.00V374.24H198.25V370.03H199.00V375.79H199.30V377.26H199.75V377.05H200.50V381.34H200.60V378.30H201.25V381.62H201.90V385.91H202.00V389.45H202.75V391.62H203.20V393.25H203.50V396.27H204.25V399.32H204.50V399.85H205.00V399.43H205.40V396.69H205.75V396.99H206.40V403.62H206.50V403.31H207.25V404.13H207.70V403.04H208.00V402.52H208.70V408.59H208.75V405.06H209.50V401.69H210.10V399.81H210.25V393.28H210.50V389.63H211.00V396.31H211.30V404.71H211.75V406.56H212.40V407.96H212.50V409.09H213.25V407.61H213.80V409.25H214.00V408.02H214.75V404.59H215.20V402.00H215.50V400.73H215.90V397.28H216.25V402.21H216.50V408.28H217.00V404.36H217.75V404.46H217.90V403.74H218.50V409.02H218.70V409.68H219.25V409.61H219.80V411.81H220.00V412.09H220.75V411.79H221.20V412.27H221.50V411.94H222.25V411.67H222.50V411.55H223.00V416.40H223.75V414.42H224.40V412.00H224.50V412.45H225.25V415.23H225.30V415.80H226.00V415.16H226.70V415.46H226.75V415.45H227.50V414.38H228.25V413.00H228.50V412.59H229.00V414.17H229.50V416.40H229.75V416.40H230.50V416.40H231.25V416.40H232.00V416.40H232.75V416.40H233.50V416.40H234.25V416.40H235.00V416.40H235.75V416.40H236.50V416.40H237.25V416.40H238.00V416.40H238.75V416.40H239.50V416.40H240.25V416.40H241.00V416.40H241.75V416.40H242.50V416.40H243.25V416.40H244.00V416.40H244.75V416.40H245.50V416.40H246.25V416.40H246.70V416.40" fill="none" stroke="#111" stroke-width="0.9" stroke-linejoin="miter"/>
</svg>
</body></html>
